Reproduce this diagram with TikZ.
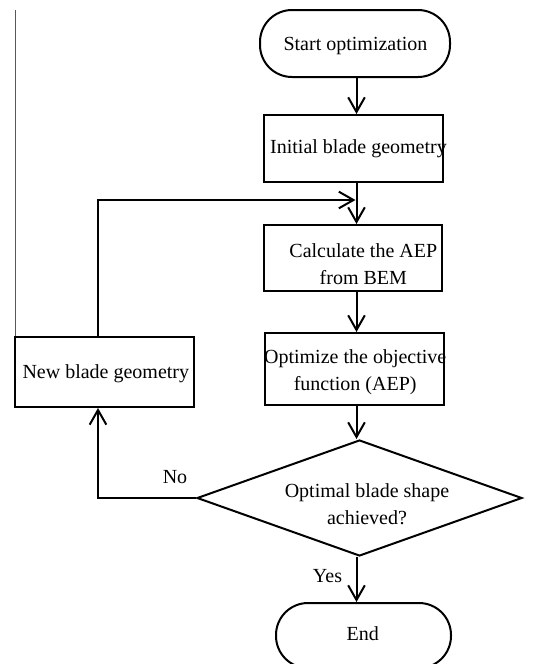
\documentclass[tikz,border=0pt]{standalone}
\usepackage{fontspec}
\setmainfont{Liberation Serif}
\usetikzlibrary{arrows.meta,shapes.geometric}
\begin{document}
\begin{tikzpicture}[x=0.75pt,y=-0.75pt,
  box/.style={draw,line width=1.5pt,rectangle,inner sep=0pt},
  term/.style={box,rounded corners=24pt},
  dec/.style={draw,line width=1.5pt,diamond,inner sep=0pt,aspect=2.8},
  txt/.style={font=\fontsize{15}{20.25}\selectfont,inner sep=0pt,align=center},
  arr/.style={line width=1.5pt,-{Straight Barb[length=11pt,width=12.5pt]}},
  ln/.style={line width=1.5pt},
  edge/.style={line width=1.1pt,draw=black!65}]
\useasboundingbox (0,0) rectangle (545,664);
% boxes
\node[term,minimum width=142.5pt,minimum height=50.25pt] (start) at (355,43.5) {};
\node[box,minimum width=134.25pt,minimum height=50.25pt] (init) at (353.5,148.5) {};
\node[box,minimum width=133.5pt,minimum height=49.5pt] (calc) at (353,258) {};
\node[box,minimum width=134.25pt,minimum height=54pt] (opt) at (354.5,369) {};
\node[box,minimum width=134.25pt,minimum height=52.5pt] (new) at (104.5,372) {};
\node[dec,minimum width=243.75pt,minimum height=87pt] (dec) at (359.5,498) {};
\node[term,minimum width=131.25pt,minimum height=48.75pt] (end) at (363.5,635.5) {};
% texts
\node[txt,anchor=base] (tstart) at (355.5,50) {Start optimization};
\node[txt,anchor=base] (tinit) at (358.5,153) {Initial blade geometry};
\node[txt] (tcalc) at (363.3,264) {Calculate the AEP\\from BEM};
\node[txt] (topt) at (355.2,372) {Optimize the objective\\function (AEP)};
\node[txt,anchor=base] (tnew) at (105.8,378) {New blade geometry};
\node[txt] (tdec) at (367,503.8) {Optimal blade shape\\achieved?};
\node[txt,anchor=base] (tend) at (362.7,640) {End};
\node[txt,anchor=base] (lno) at (175,483) {No};
\node[txt,anchor=base] (lyes) at (327.5,582) {Yes};
% helper coordinates
\coordinate (axis) at (356.5,0);
\coordinate (lc) at (98,200);
\coordinate (fb) at (355.5,200);
\coordinate (edgetop) at (15.5,10);
% connectors
\draw[arr] (start.south -| axis) -- (init.north -| axis);
\draw[arr] (init.south -| axis) -- (calc.north -| axis);
\draw[arr] (calc.south -| axis) -- (opt.north -| axis);
\draw[arr] (opt.south -| axis) -- (dec.north -| axis);
\draw[arr] (dec.south -| axis) -- (end.north -| axis);
\draw[arr] (dec.west) -| (new.south -| lc);
\draw[arr] (new.north -| lc) |- (fb);
% page edge line
\draw[edge] (edgetop) -- (edgetop |- new.north);
\end{tikzpicture}
\end{document}
